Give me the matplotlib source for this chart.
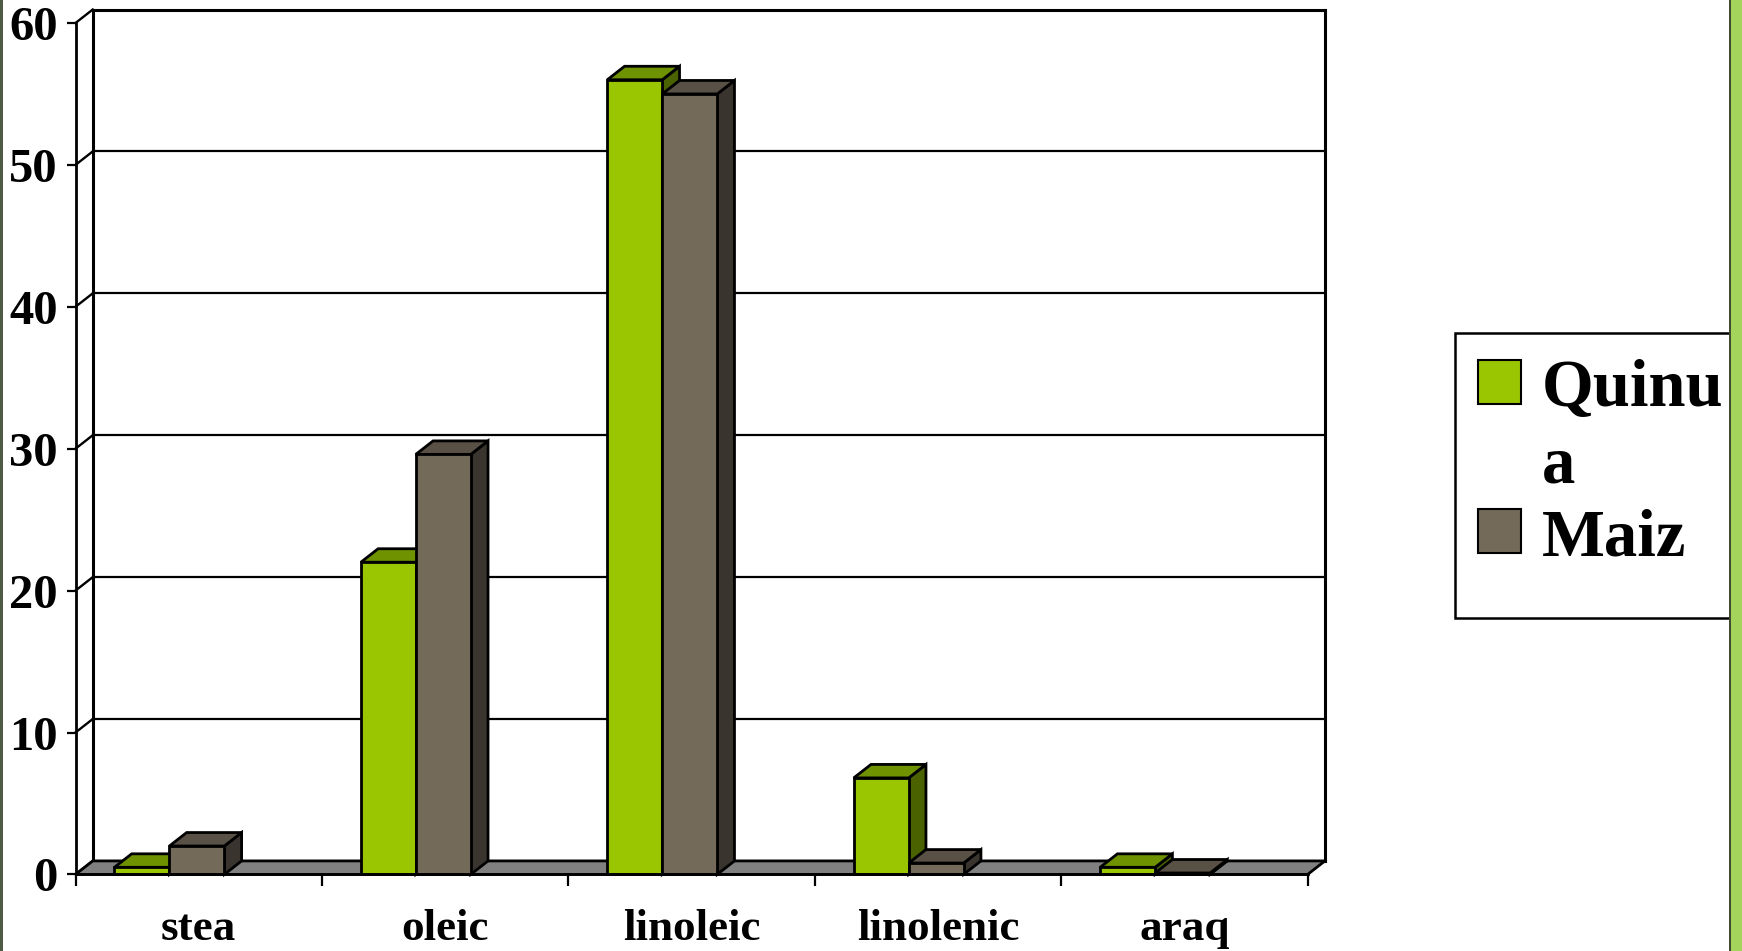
import matplotlib
matplotlib.use("Agg")
import matplotlib.pyplot as plt
from matplotlib.patches import Polygon, Rectangle

# fatty acid composition (%)
acids = ["stea", "oleic", "linoleic", "linolenic", "araq"]
quinua = [0.5, 22.0, 56.0, 6.8, 0.5]
maiz = [2.0, 29.6, 55.0, 0.8, 0.1]
series_names = ["Quinu\na", "Maiz"]
yticks = [0, 10, 20, 30, 40, 50, 60]

# face colours: front, top, side
green = ("#99c600", "#6e9200", "#4b6200")
brown = ("#736a5a", "#595046", "#3a342e")

W, H = 1742, 951
fig = plt.figure(figsize=(W / 100, H / 100), dpi=100)
fig.patch.set_facecolor("white")

serif = ["Liberation Serif", "DejaVu Serif"]

ax = fig.add_axes([75.5 / W, (H - 874.4) / H, 1232.2 / W, 851.4 / H])
ax.set_xlim(0, len(acids))
ax.set_ylim(0, 60)
ax.patch.set_visible(False)
for s in ["top", "right"]:
    ax.spines[s].set_visible(False)
for s in ["left", "bottom"]:
    ax.spines[s].set_linewidth(2.0)
    ax.spines[s].set_zorder(6)

# depth of the pseudo-3d box in data units
dx, dy = 0.07, 0.95
n = len(acids)
lw = 2.0

# back wall, gridlines and side-wall diagonals
for v in yticks:
    ax.plot([dx, n + dx], [v + dy, v + dy], color="black",
            lw=1.6 if v not in (0, 60) else 2.2, clip_on=False, zorder=1)
    ax.plot([0, dx], [v, v + dy], color="black", lw=1.7, clip_on=False, zorder=1)
ax.plot([dx, dx], [dy, 60 + dy], color="black", lw=2.2, clip_on=False, zorder=1)
ax.plot([n + dx, n + dx], [dy, 60 + dy], color="black", lw=2.2, clip_on=False, zorder=1)

# floor
ax.add_patch(Polygon([(0, 0), (n, 0), (n + dx, dy), (dx, dy)], closed=True,
                     facecolor="#808080", edgecolor="black", lw=lw,
                     clip_on=False, zorder=2))

bw = 0.223
offs = [0.158, 0.158 + bw]
for j, (vals, cols) in enumerate([(quinua, green), (maiz, brown)]):
    xs = [i + offs[j] for i in range(n)]
    ax.bar(xs, vals, width=bw, align="edge", color=cols[0], edgecolor="black",
           linewidth=lw, zorder=5, clip_on=False)
    for x0, v in zip(xs, vals):
        side = [(x0 + bw, 0), (x0 + bw + dx, dy), (x0 + bw + dx, v + dy), (x0 + bw, v)]
        top = [(x0, v), (x0 + bw, v), (x0 + bw + dx, v + dy), (x0 + dx, v + dy)]
        ax.add_patch(Polygon(side, closed=True, facecolor=cols[2], edgecolor="black",
                             lw=lw, zorder=3, clip_on=False, joinstyle="miter"))
        ax.add_patch(Polygon(top, closed=True, facecolor=cols[1], edgecolor="black",
                             lw=lw, zorder=4, clip_on=False, joinstyle="miter"))

# axes ticks and labels
ax.set_yticks(yticks)
ax.set_yticklabels([str(v) for v in yticks], fontfamily=serif, fontweight="bold",
                   fontsize=35)
ax.tick_params(axis="y", length=6.8, width=1.6, pad=6)
ax.set_xticks(range(n + 1))
ax.set_xticklabels([])
ax.tick_params(axis="x", which="major", length=8.5, width=1.6)
ax.set_xticks([i + 0.5 for i in range(n)], minor=True)
ax.set_xticklabels(acids, minor=True, fontfamily=serif, fontweight="bold", fontsize=32.5)
ax.tick_params(axis="x", which="minor", length=0, pad=25)


# legend box, laid out in pixels from the top-left corner
def fx(px):
    return px / W


def fy(py):
    return 1 - py / H


fig.patches.append(Rectangle((fx(1455), fy(618)), fx(1730) - fx(1455), fy(333) - fy(618),
                             transform=fig.transFigure, facecolor="white",
                             edgecolor="black", lw=1.8))
for cols, name, box_top, base in zip([green, brown], series_names, [360, 509], [405, 555]):
    fig.patches.append(Rectangle((fx(1478), fy(box_top + 44)), fx(43), 44 / H,
                                 transform=fig.transFigure, facecolor=cols[0],
                                 edgecolor="black", lw=1.5))
    if "\n" in name:
        fig.text(fx(1542), fy(box_top - 1), name, fontfamily=serif, fontweight="bold",
                 fontsize=48, va="top", ha="left", linespacing=1.34)
    else:
        fig.text(fx(1542), fy(base), name, fontfamily=serif, fontweight="bold",
                 fontsize=48, va="baseline", ha="left")

# slide edges
fig.patches.append(Rectangle((0, 0), fx(2.5), 1, transform=fig.transFigure,
                             facecolor="#4e5a44", edgecolor="none"))
fig.patches.append(Rectangle((fx(1730), 0), fx(12), 1, transform=fig.transFigure,
                             facecolor="#a4d45c", edgecolor="none"))
fig.patches.append(Rectangle((fx(1729), 0), fx(1.5), 1, transform=fig.transFigure,
                             facecolor="#3f4c30", edgecolor="none"))

fig.savefig("out.png", dpi=100)
